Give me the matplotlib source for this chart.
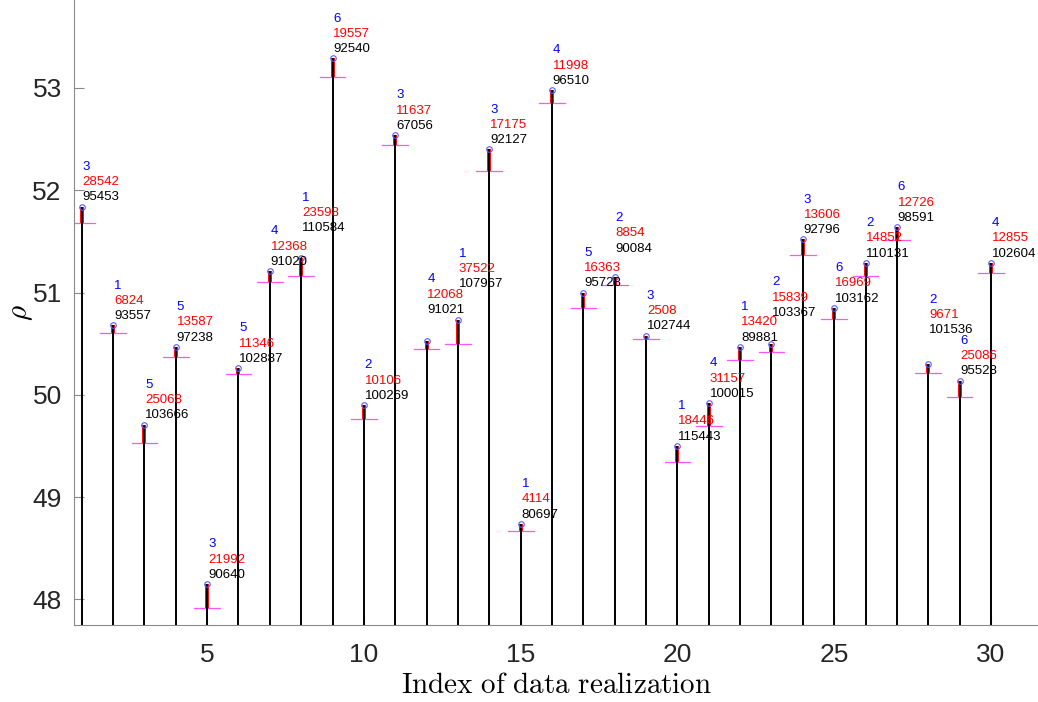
import matplotlib
matplotlib.use("Agg")
import matplotlib.pyplot as plt
import numpy as np

plt.rcParams["mathtext.fontset"] = "cm"
plt.rcParams["font.family"] = ["Liberation Sans", "DejaVu Sans"]

# rho per realization: top value and lower bound of the red band
rho_top = [51.84, 50.68, 49.71, 50.47, 48.15, 50.26, 51.21, 51.34, 53.29, 49.90,
           52.54, 50.53, 50.73, 52.40, 48.74, 52.98, 51.00, 51.15, 50.58, 49.50,
           49.92, 50.47, 50.50, 51.52, 50.85, 51.29, 51.64, 50.30, 50.14, 51.29]
rho_low = [51.68, 50.60, 49.53, 50.37, 47.92, 50.20, 51.10, 51.16, 53.11, 49.76,
           52.44, 50.45, 50.50, 52.19, 48.67, 52.85, 50.85, 51.07, 50.55, 49.34,
           49.70, 50.34, 50.42, 51.37, 50.74, 51.16, 51.51, 50.21, 49.98, 51.19]

# annotations stacked above each stem
cluster_id = [3, 1, 5, 5, 3, 5, 4, 1, 6, 2, 3, 4, 1, 3, 1, 4, 5, 2, 3, 1,
              4, 1, 2, 3, 6, 2, 6, 2, 6, 4]
count_red = [28542, 6824, 25068, 13587, 21992, 11346, 12368, 23598, 19557, 10106,
             11637, 12068, 37522, 17175, 4114, 11998, 16363, 8854, 2508, 18446,
             31157, 13420, 15839, 13606, 16969, 14852, 12726, 9671, 25086, 12855]
count_black = [95453, 93557, 103666, 97238, 90640, 102887, 91020, 110584, 92540, 100269,
               67056, 91021, 107967, 92127, 80697, 96510, 95728, 90084, 102744, 115443,
               100015, 89881, 103367, 92796, 103162, 110131, 98591, 101536, 95528, 102604]

idx = np.arange(1, len(rho_top) + 1)

# labels lifted further where they would collide with a neighbour
label_lift = {8: 0.29, 12: 0.30, 13: 0.35, 18: 0.28, 23: 0.30, 28: 0.33}

fig = plt.figure(figsize=(10.38, 7.02), dpi=100)
ax = fig.add_axes([0.0716, 0.1097, 0.9284, 0.8903])

ymin, ymax = 47.75, 53.86
ax.set_xlim(0.764, 31.5)
ax.set_ylim(ymin, ymax)

for i, top, low in zip(idx, rho_top, rho_low):
    ax.plot([i, i], [low, top], color="#ff0000", lw=2.8, solid_capstyle="butt", zorder=2)
    ax.plot([i, i], [ymin, top], color="black", lw=1.4, solid_capstyle="butt", zorder=3)
    ax.plot([i - 0.41, i + 0.41], [low, low], color="#ff55ff", lw=0.9, zorder=2)

ax.plot(idx, rho_top, "o", ms=4, mfc="none", mec="#5a5aff", mew=0.8, zorder=4)

for i, top, c, r, b in zip(idx, rho_top, cluster_id, count_red, count_black):
    y = top + label_lift.get(i, 0.09)
    for k, (txt, col) in enumerate([(b, "black"), (r, "#ff0000"), (c, "#0000ff")]):
        ax.annotate(str(txt), xy=(i, y), xytext=(0.6, 11 * k), textcoords="offset points",
                    ha="left", va="center", color=col, fontsize=9.5, zorder=5)

ax.set_yticks([48, 49, 50, 51, 52, 53])
ax.set_xticks([5, 10, 15, 20, 25, 30])
ax.tick_params(direction="in", length=7, width=0.8, color="#8a8a8a",
               labelsize=19, labelcolor="#262626")
ax.tick_params(axis="x", pad=13)
ax.tick_params(axis="y", pad=9)
for side in ("top", "right"):
    ax.spines[side].set_visible(False)
for side in ("left", "bottom"):
    ax.spines[side].set_color("#8a8a8a")
    ax.spines[side].set_linewidth(0.8)

ax.set_xlabel(r"$\mathrm{Index\ of\ data\ realization}$", fontsize=21, labelpad=3)
ax.set_ylabel(r"$\rho$", fontsize=21, labelpad=-2)

fig.savefig("out.png", dpi=100)
